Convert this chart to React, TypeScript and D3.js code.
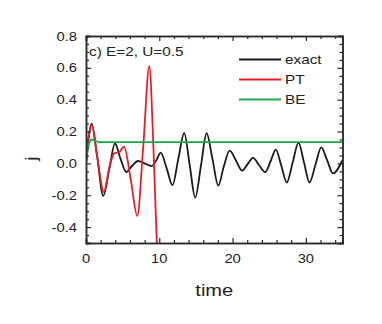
import React, { useRef, useEffect } from "react";
import * as d3 from "d3";

// exact solution (black), key points
const exactT = [0, 0.35, 0.77, 1.5, 2.36, 3.2, 3.95, 4.7, 5.5, 6.3, 7.1, 8.0, 8.95, 9.6, 10.2, 11.0, 11.8, 12.6, 13.4, 14.15, 14.9, 15.7, 16.45, 17.25, 18.05, 18.8, 19.6, 20.45, 21.3, 22.05, 22.8, 23.6, 24.45, 25.2, 25.9, 26.65, 27.4, 28.2, 29.0, 29.75, 30.5, 31.3, 32.1, 32.9, 33.7, 35];
const exactJ = [0, 0.16, 0.25, 0.05, -0.204, -0.03, 0.125, 0.03, -0.054, -0.015, 0.015, 0.0, -0.017, 0.02, 0.067, -0.03, -0.137, 0.03, 0.19, -0.01, -0.215, -0.01, 0.19, 0.03, -0.14, -0.02, 0.08, 0.02, -0.045, -0.005, 0.035, -0.01, -0.055, 0.015, 0.087, -0.015, -0.12, 0.005, 0.13, 0.005, -0.12, -0.01, 0.1, 0.02, -0.063, 0.02];

// perturbation theory (red)
const ptT = [0, 0.3, 0.8, 1.5, 2.45, 3.2, 3.9, 4.5, 5.2, 6.1, 7.0, 7.8, 8.64, 9.2, 9.7];
const ptJ = [0, 0.15, 0.24, 0.05, -0.18, -0.02, 0.065, 0.07, 0.105, -0.1, -0.33, 0.1, 0.61, 0.1, -0.55];

// Boltzmann equation (green)
const beT = [0, 0.4, 0.8, 1.4, 2.0, 35];
const beJ = [0, 0.12, 0.15, 0.138, 0.134, 0.134];

const xMajor = [0, 10, 20, 30];
const yMajor = [-0.4, -0.2, 0.0, 0.2, 0.4, 0.6, 0.8];

const series = [
  { name: "exact", t: exactT, j: exactJ, color: "#1a1a1a" },
  { name: "PT", t: ptT, j: ptJ, color: "#ec1c24" },
  { name: "BE", t: beT, j: beJ, color: "#1aa84c" },
];

const W = 382;
const H = 324;
const m = { left: 86, right: 39.5, top: 36, bottom: 81 };
const font = "'Liberation Sans', Arial, sans-serif";
const axisColor = "#2b2b2b";
const stretch = 1.18; // the reference's lettering is a bit wider than plain Arial

const App = () => {
  const svgRef = useRef<SVGSVGElement>(null);

  useEffect(() => {
    const svg = d3.select(svgRef.current);
    svg.selectAll("*").remove();

    const x = d3.scaleLinear().domain([0, 35]).range([m.left, W - m.right]);
    const y = d3.scaleLinear().domain([-0.5, 0.8]).range([H - m.bottom, m.top]);

    const addText = (
      px: number, py: number, str: string, size: number,
      anchor = "start", rotate = 0
    ) =>
      svg.append("text")
        .attr("transform", `translate(${px},${py}) rotate(${rotate}) scale(${stretch},1)`)
        .attr("text-anchor", anchor)
        .attr("fill", "#222")
        .style("font-family", font)
        .style("font-size", `${size}px`)
        .text(str);

    svg.append("defs").append("clipPath").attr("id", "plot-clip")
      .append("rect")
      .attr("x", m.left).attr("y", m.top)
      .attr("width", W - m.left - m.right).attr("height", H - m.top - m.bottom);

    const g = svg.append("g").attr("clip-path", "url(#plot-clip)");

    // --- lines ---
    series.forEach((s) => {
      const pts = s.t.map((t, i) => [t, s.j[i]] as [number, number]);
      const line = d3.line<[number, number]>()
        .x((d) => x(d[0]))
        .y((d) => y(d[1]))
        .curve(d3.curveMonotoneX);
      g.append("path")
        .datum(pts)
        .attr("fill", "none")
        .attr("stroke", s.color)
        .attr("stroke-width", 1.8)
        .attr("d", line);
    });

    // --- axes (ticks pointing inward on all four sides) ---
    const xMinor = d3.range(0, 35.01, 2).filter((v) => !xMajor.includes(v));
    const yMinor = d3.range(-0.5, 0.801, 0.05).filter((v) => !yMajor.some((mj) => Math.abs(mj - v) < 1e-6));
    const none = () => "";

    const axes: [any, string, number, number][] = [
      [d3.axisBottom(x).tickValues(xMajor).tickSize(-5), `translate(0,${H - m.bottom})`, 0, 0],
      [d3.axisTop(x).tickValues(xMajor).tickSize(-5), `translate(0,${m.top})`, 0, 0],
      [d3.axisLeft(y).tickValues(yMajor).tickSize(-5), `translate(${m.left},0)`, 0, 0],
      [d3.axisRight(y).tickValues(yMajor).tickSize(-5), `translate(${W - m.right},0)`, 0, 0],
      [d3.axisBottom(x).tickValues(xMinor).tickSize(-3), `translate(0,${H - m.bottom})`, 0, 0],
      [d3.axisTop(x).tickValues(xMinor).tickSize(-3), `translate(0,${m.top})`, 0, 0],
      [d3.axisLeft(y).tickValues(yMinor).tickSize(-3), `translate(${m.left},0)`, 0, 0],
      [d3.axisRight(y).tickValues(yMinor).tickSize(-3), `translate(${W - m.right},0)`, 0, 0],
    ];
    axes.forEach(([ax, tr]) => {
      svg.append("g").attr("transform", tr).call(ax.tickFormat(none));
    });

    svg.selectAll(".domain").attr("stroke", axisColor).attr("stroke-width", 1.5);
    svg.selectAll(".tick line").attr("stroke", axisColor).attr("stroke-width", 1.2);
    svg.selectAll(".tick text").remove();

    // --- tick labels (hyphen minus as in the reference) ---
    const fmtY = (v: number) => v.toFixed(1).replace("\u2212", "-");
    xMajor.forEach((v) => addText(x(v), 263, String(v), 12.5, "middle"));
    yMajor.forEach((v) => addText(77, y(v) + 4.5, fmtY(v), 12.5, "end"));

    // --- labels ---
    addText((m.left + W - m.right) / 2, 296, "time", 17, "middle");
    addText(37, y(0.03), "j", 17, "middle", -90);
    addText(m.left + 3, 56, "c) E=2, U=0.5", 13);

    // --- legend ---
    series.forEach((s, i) => {
      const ly = 59.5 + i * 20;
      svg.append("line")
        .attr("x1", 239).attr("x2", 281)
        .attr("y1", ly).attr("y2", ly)
        .attr("stroke", s.color).attr("stroke-width", 1.8);
      addText(285, ly + 4.5, s.name, 13);
    });
  }, []);

  return (
    <svg
      ref={svgRef}
      width={W}
      height={H}
      style={{ position: "absolute", left: 0, top: 0, background: "#fff" }}
    />
  );
};

export default App;
